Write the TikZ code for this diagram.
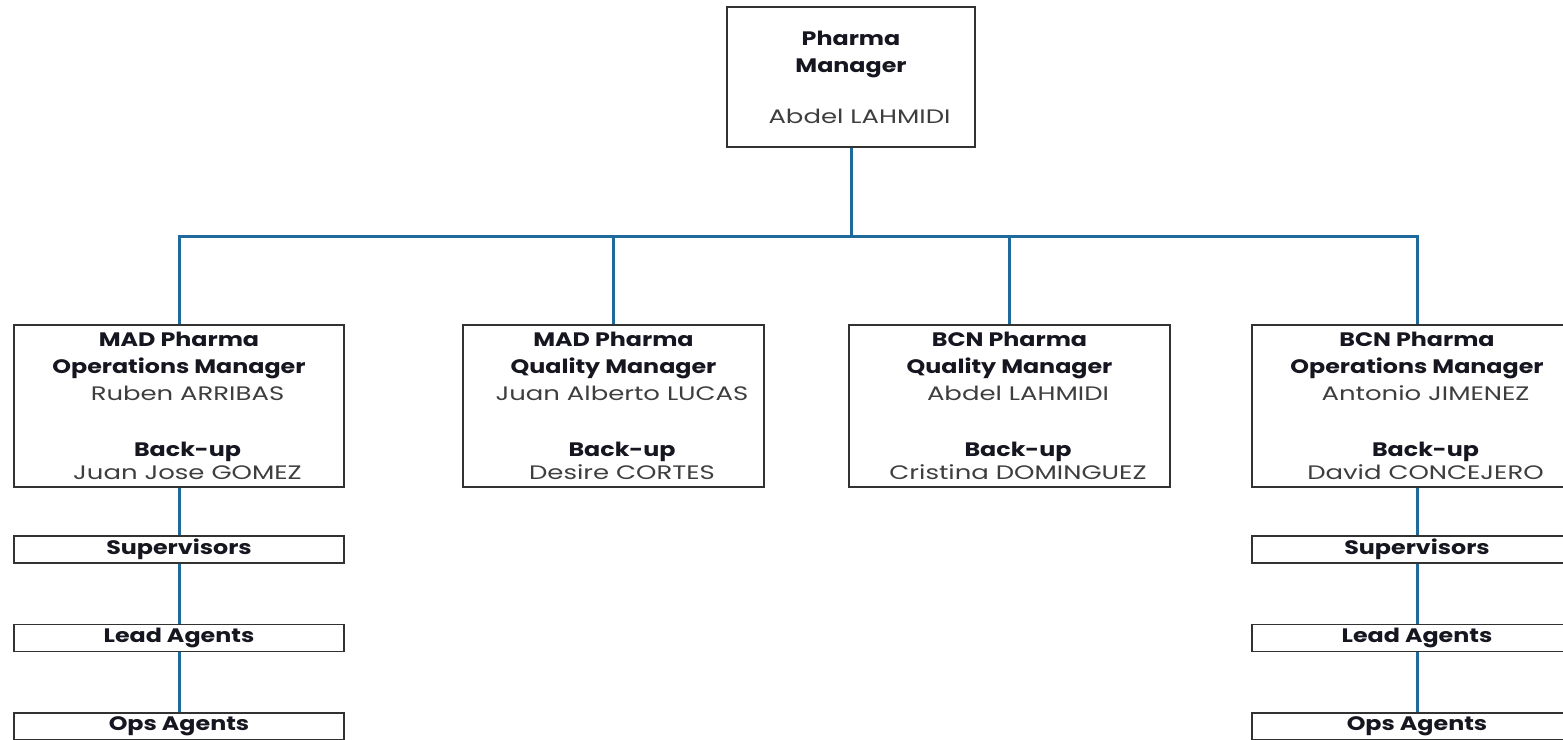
\documentclass[tikz,border=0pt]{standalone}
\usepackage{fontspec}
\setmainfont{Poppins}[FakeStretch=1.33, BoldFeatures={FakeStretch=1.22}]
\definecolor{linkblue}{RGB}{31,105,155}
\definecolor{boxline}{RGB}{50,50,50}
\definecolor{titletxt}{RGB}{22,22,32}
\definecolor{nametxt}{RGB}{62,62,62}
\newcommand\roletitle[1]{{\bfseries\color{titletxt}#1}}
\newcommand\person[1]{{\color{nametxt}\hspace*{17pt}#1}}
\newcommand\backup[1]{{\bfseries\color{titletxt}\hspace*{17pt}#1}}
\tikzset{
  rolebox/.style={draw=boxline, line width=1.5pt, fill=white, inner sep=0pt,
    minimum width=330pt, minimum height=162pt, align=center,
    font=\fontsize{19.5}{27}\selectfont},
  topbox/.style={rolebox, minimum width=248pt, minimum height=140pt},
  tierbox/.style={draw=boxline, line width=1.5pt, fill=white, inner sep=0pt,
    minimum width=330pt, minimum height=27pt, text=titletxt,
    font=\fontsize{19.5}{22}\selectfont\bfseries},
  orgline/.style={draw=linkblue, line width=3pt},
}
\begin{document}
\begin{tikzpicture}[x=1pt, y=-1pt]
\useasboundingbox (0,0) rectangle (1563,739);

% head of the unit
\node[topbox] (head) at (851,77)
  {\roletitle{Pharma}\\ \roletitle{Manager}\\[24pt] \person{Abdel LAHMIDI}};

% site managers
\node[rolebox] (madops) at (179,406)
  {\roletitle{MAD Pharma}\\ \roletitle{Operations Manager}\\ \person{Ruben ARRIBAS}\\[29pt]
   \backup{Back-up}\\[-4pt] \person{Juan Jose GOMEZ}};
\node[rolebox, minimum width=301pt] (madqa) at (613.5,406)
  {\roletitle{MAD Pharma}\\ \roletitle{Quality Manager}\\ \person{Juan Alberto LUCAS}\\[29pt]
   \backup{Back-up}\\[-4pt] \person{Desire CORTES}};
\node[rolebox, minimum width=321pt] (bcnqa) at (1009.5,406)
  {\roletitle{BCN Pharma}\\ \roletitle{Quality Manager}\\ \person{Abdel LAHMIDI}\\[29pt]
   \backup{Back-up}\\[-4pt] \person{Cristina DOMINGUEZ}};
\node[rolebox] (bcnops) at (1417,406)
  {\roletitle{BCN Pharma}\\ \roletitle{Operations Manager}\\ \person{Antonio JIMENEZ}\\[29pt]
   \backup{Back-up}\\[-4pt] \person{David CONCEJERO}};

% operational tiers under each operations manager
\node[tierbox] (madsup)  at (179,549.5) {Supervisors};
\node[tierbox] (madlead) at (179,638)   {Lead Agents};
\node[tierbox] (madops2) at (179,726.5) {Ops Agents};
\node[tierbox] (bcnsup)  at (1417,549.5) {Supervisors};
\node[tierbox] (bcnlead) at (1417,638)   {Lead Agents};
\node[tierbox] (bcnops2) at (1417,726.5) {Ops Agents};

% reporting lines
\coordinate (bus) at (851,236);
\draw[orgline] (head.south) -- (bus);
\foreach \child in {madops, madqa, bcnqa, bcnops}
  \draw[orgline] (bus) -| (\child.north);
\draw[orgline] (madops.south) -- (madsup.north);
\draw[orgline] (madsup.south) -- (madlead.north);
\draw[orgline] (madlead.south) -- (madops2.north);
\draw[orgline] (bcnops.south) -- (bcnsup.north);
\draw[orgline] (bcnsup.south) -- (bcnlead.north);
\draw[orgline] (bcnlead.south) -- (bcnops2.north);
\end{tikzpicture}
\end{document}
